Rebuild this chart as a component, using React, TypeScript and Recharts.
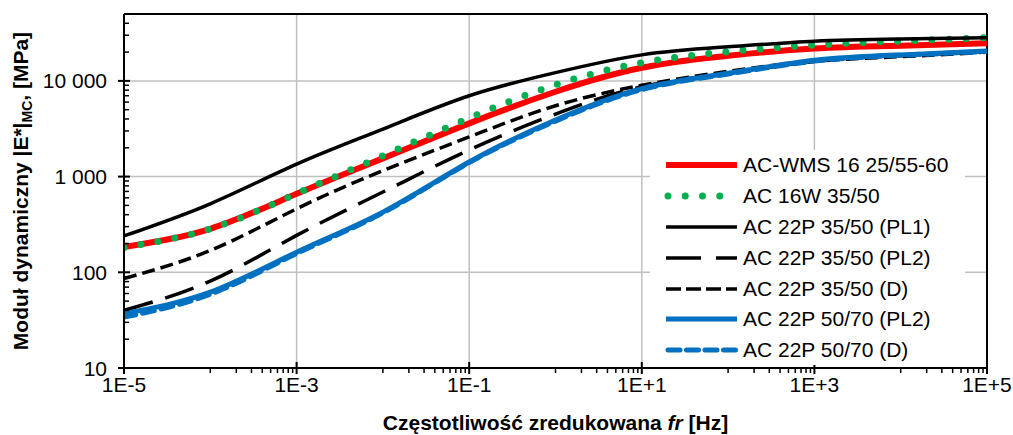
import { LineChart, Line, XAxis, YAxis, ReferenceLine, Legend } from "recharts"

// reduced frequency [Hz], one point per decade
const FREQ = [1e-5, 1e-4, 1e-3, 1e-2, 1e-1, 1, 10, 100, 1000, 1e4, 1e5]

// |E*| master curves [MPa]
const WMS_16 = [184, 285, 661, 1550, 3600, 7700, 13700, 18300, 21800, 23300, 24700]
const W16_3550 = [182, 285, 665, 1650, 4100, 9100, 15500, 20200, 23700, 26100, 28300]
const P22_3550_PL1 = [240, 520, 1350, 3140, 7000, 12200, 18700, 22700, 26000, 27400, 28300]
const P22_3550_PL2 = [40, 81, 243, 690, 1900, 4500, 8700, 12000, 16000, 18300, 20300]
const P22_3550_D = [86, 169, 461, 1155, 2600, 5500, 9000, 12600, 16000, 17900, 20000]
const P22_5070_PL2 = [37, 62, 162, 425, 1420, 3900, 8300, 12000, 16400, 18700, 20500]
const P22_5070_D = [34, 59, 157, 418, 1400, 3800, 8100, 11800, 16100, 18500, 20300]

const X_MAJORS = [1e-5, 1e-3, 1e-1, 1e1, 1e3, 1e5]
const X_LABELS = ["1E-5", "1E-3", "1E-1", "1E+1", "1E+3", "1E+5"]
const Y_MAJORS = [10, 100, 1000, 10000]
const Y_LABELS = ["10", "100", "1 000", "10 000"]

const FONT = "'Liberation Sans', Arial, sans-serif"

const SERIES = [
  { key: "wms", name: "AC-WMS 16 25/55-60", values: WMS_16, color: "#FF0000", width: 6 },
  { key: "w16", name: "AC 16W 35/50", values: W16_3550, color: "#00B050", width: 7, dash: "0 17.2", legendDash: "0 17.25", cap: "round" },
  { key: "pl1", name: "AC 22P 35/50 (PL1)", values: P22_3550_PL1, color: "#000000", width: 3.5 },
  { key: "pl2", name: "AC 22P 35/50 (PL2)", values: P22_3550_PL2, color: "#000000", width: 3.5, dash: "30 13", legendDash: "35 15" },
  { key: "d", name: "AC 22P 35/50 (D)", values: P22_3550_D, color: "#000000", width: 3.5, dash: "13 6", legendDash: "15 5" },
  { key: "bpl2", name: "AC 22P 50/70 (PL2)", values: P22_5070_PL2, color: "#0070C0", width: 5 },
  { key: "bd", name: "AC 22P 50/70 (D)", values: P22_5070_D, color: "#0070C0", width: 5, dash: "12 7", legendDash: "12 6.5", cap: "round" },
]

const data = FREQ.map((f, i) => {
  const row: Record<string, number> = { f }
  SERIES.forEach((s) => (row[s.key] = s.values[i]))
  return row
})

const xTicks: number[] = []
X_MAJORS.forEach((m, i) => {
  xTicks.push(m)
  if (i < X_MAJORS.length - 1) for (let k = 1; k <= 9; k++) xTicks.push(m * 10 * k)
})
const yTicks: number[] = []
Y_MAJORS.forEach((m) => {
  yTicks.push(m)
  for (let k = 2; k <= 9; k++) if (m * k < 50000) yTicks.push(m * k)
})

const XTick = ({ x, y, payload }: any) => {
  const i = X_MAJORS.indexOf(payload.value)
  if (i < 0) return <line x1={x} x2={x} y1={y} y2={y + 5} stroke="#000" strokeWidth={1.5} />
  return (
    <g>
      <line x1={x} x2={x} y1={y - 6} y2={y + 6} stroke="#000" strokeWidth={2} />
      <text x={x} y={y + 16} textAnchor="middle" dominantBaseline="central" fontFamily={FONT} fontSize={21} fill="#000">
        {X_LABELS[i]}
      </text>
    </g>
  )
}

const YTick = ({ x, y, payload }: any) => {
  const i = Y_MAJORS.indexOf(payload.value)
  if (i < 0) return <line x1={x} x2={x + 5} y1={y} y2={y} stroke="#000" strokeWidth={1.5} />
  return (
    <g>
      <line x1={x - 6} x2={x + 6} y1={y} y2={y} stroke="#000" strokeWidth={2} />
      <text x={x - 17} y={y} textAnchor="end" dominantBaseline="central" fontFamily={FONT} fontSize={21} fill="#000">
        {Y_LABELS[i]}
      </text>
    </g>
  )
}

const XTitle = ({ viewBox }: any) => (
  <text x={viewBox.x + viewBox.width / 2} y={viewBox.y + 62} textAnchor="middle" fontFamily={FONT} fontSize={21} fontWeight="bold" fill="#000">
    Częstotliwość zredukowana <tspan fontStyle="italic">fr</tspan> [Hz]
  </text>
)

const YTitle = ({ viewBox }: any) => (
  <text
    transform={`translate(28, ${viewBox.y + viewBox.height / 2}) rotate(-90)`}
    textAnchor="middle"
    fontFamily={FONT}
    fontSize={21}
    fontWeight="bold"
    fill="#000"
  >
    Moduł dynamiczny |E*|<tspan fontSize={14} dy={4}>MC</tspan>
    <tspan dy={-4}>, [MPa]</tspan>
  </text>
)

const LegendBox = () => (
  <div style={{ fontFamily: FONT, fontSize: 21, color: "#000" }}>
    {SERIES.map((s) => (
      <div key={s.key} style={{ display: "flex", alignItems: "center", height: 30.8 }}>
        <svg width={93} height={30} style={{ flex: "none" }}>
          <line
            x1={s.cap === "round" ? 18 : 16}
            x2={87}
            y1={15}
            y2={15}
            stroke={s.color}
            strokeWidth={s.width}
            strokeDasharray={s.legendDash}
            strokeLinecap={(s.cap as any) || "butt"}
          />
        </svg>
        <span style={{ whiteSpace: "nowrap" }}>{s.name}</span>
      </div>
    ))}
  </div>
)

export default function App() {
  return (
    <div style={{ position: "absolute", left: 0, top: 0, width: 1013, height: 435, background: "#fff" }}>
      <LineChart width={1013} height={435} data={data} margin={{ top: 14, right: 26, left: 0, bottom: 0 }}>
        <XAxis
          dataKey="f"
          type="number"
          scale="log"
          domain={[1e-5, 1e5]}
          ticks={xTicks}
          interval={0}
          tick={<XTick />}
          tickLine={false}
          tickSize={0}
          tickMargin={0}
          height={67}
          axisLine={{ stroke: "#000", strokeWidth: 2 }}
          allowDataOverflow
          label={{ content: XTitle }}
        />
        <YAxis
          type="number"
          scale="log"
          domain={[10, 50000]}
          ticks={yTicks}
          interval={0}
          tick={<YTick />}
          tickLine={false}
          tickSize={0}
          tickMargin={0}
          width={124}
          axisLine={{ stroke: "#000", strokeWidth: 2 }}
          allowDataOverflow
          label={{ content: YTitle }}
        />
        {X_MAJORS.slice(1, -1).map((v) => (
          <ReferenceLine key={"gx" + v} x={v} stroke="#C0C0C0" strokeWidth={1.5} />
        ))}
        {Y_MAJORS.slice(1).map((v) => (
          <ReferenceLine key={"gy" + v} y={v} stroke="#C0C0C0" strokeWidth={1.5} />
        ))}
        <ReferenceLine y={50000} stroke="#000" strokeWidth={2} />
        <ReferenceLine x={1e5} stroke="#000" strokeWidth={2} />
        {SERIES.map((s) => (
          <Line
            key={s.key}
            dataKey={s.key}
            name={s.name}
            type="natural"
            stroke={s.color}
            strokeWidth={s.width}
            strokeDasharray={s.dash}
            strokeLinecap={(s.cap as any) || "butt"}
            dot={false}
            activeDot={false}
            isAnimationActive={false}
          />
        ))}
        <Legend
          layout="vertical"
          align="center"
          verticalAlign="middle"
          wrapperStyle={{ left: 650, top: 150, width: 315, height: 215, background: "#fff" }}
          content={() => <LegendBox />}
        />
      </LineChart>
    </div>
  )
}
